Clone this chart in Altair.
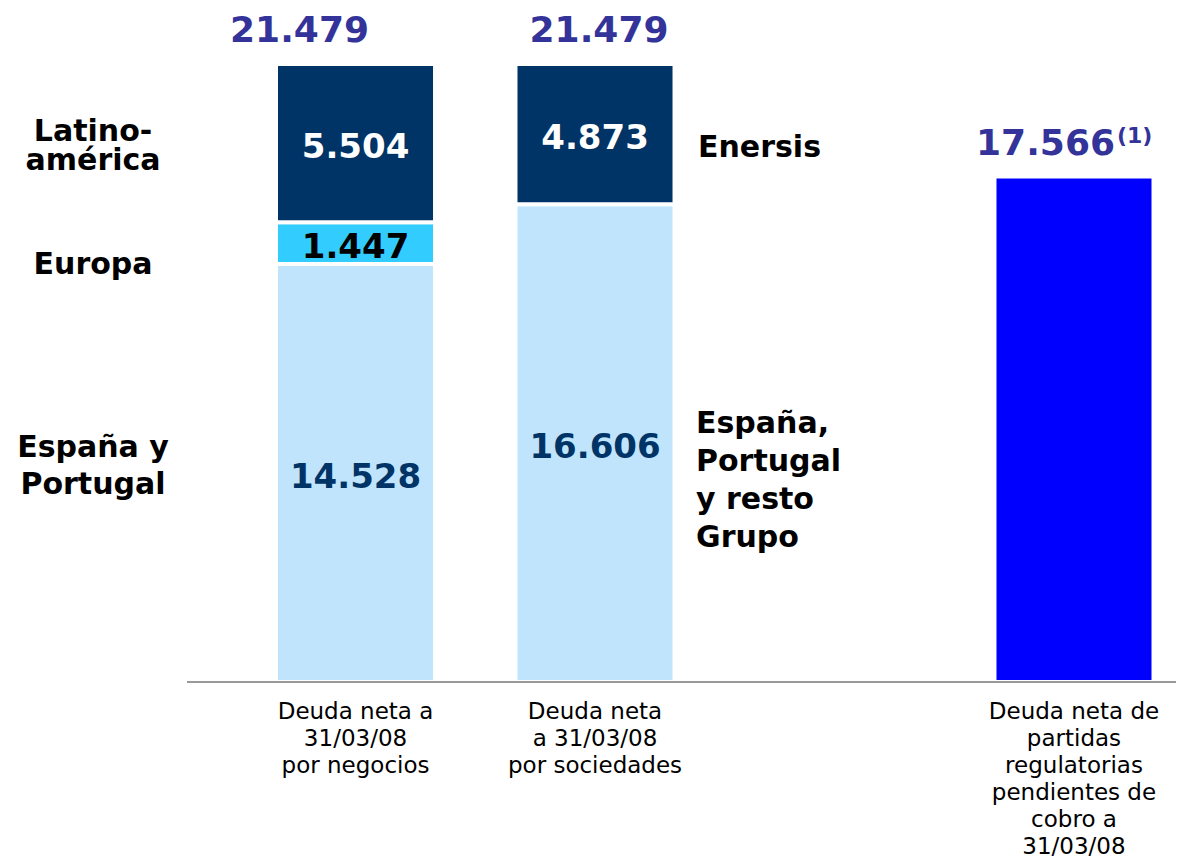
import altair as alt
import pandas as pd

# ---------------- data ----------------
categories = ["L", "neg", "soc", "G", "reg"]          # L = left label column, G = gap
bar_ids = ["neg", "soc", "reg"]
bar_axis_labels = [
    ["Deuda neta a", "31/03/08", "por negocios"],
    ["Deuda neta", "a 31/03/08", "por sociedades"],
    ["Deuda neta de", "partidas", "regulatorias", "pendientes de", "cobro a", "31/03/08"],
]

seg_bar = ["neg", "neg", "neg", "soc", "soc", "reg"]
seg_name = ["esp_port", "europa", "latam", "esp_resto", "enersis", "regul"]
seg_value = [14528, 1447, 5504, 16606, 4873, 17566]
seg_order = [0, 1, 2, 0, 1, 0]
seg_side = ["España y\nPortugal", "Europa", "Latino-\namérica",
            "España,\nPortugal\ny resto\nGrupo", "Enersis", ""]

tot_bar = ["neg", "soc", "reg"]
tot_value = [21479, 21479, 17566]
tot_note = ["", "", "(1)"]


def fmt(v):
    return f"{v:,}".replace(",", ".")


seg_df = pd.DataFrame({
    "bar": seg_bar, "segment": seg_name, "value": seg_value,
    "order": seg_order, "side": seg_side,
    "label": [fmt(v) for v in seg_value],
})
tot_df = pd.DataFrame({
    "bar": tot_bar, "total": tot_value, "note": tot_note,
    "label": [fmt(v) for v in tot_value],
})

# ---------------- styles ----------------
FONT = "DejaVu Sans"
seg_colors = ["#BFE4FC", "#33CCFF", "#003366", "#BFE4FC", "#003366", "#0000FF"]
txt_colors = ["#003366", "#000000", "#FFFFFF", "#003366", "#FFFFFF", "#0000FF"]
TOT_COLOR = "#333399"

xscale = alt.Scale(domain=categories, paddingInner=0.336, paddingOuter=0.1065, align=0.559)
yscale = alt.Scale(domain=[0, 23425], nice=False, zero=True)

label_expr = ""
for b, lines in zip(bar_ids, bar_axis_labels):
    arr = "[" + ",".join("'" + s + "'" for s in lines) + "]"
    label_expr += f"datum.label == '{b}' ? {arr} : "
label_expr += "''"

xaxis = alt.Axis(title=None, domain=False, ticks=False, grid=False, labelAngle=0,
                 labelExpr=label_expr, labelFont=FONT, labelFontSize=23,
                 labelColor="#000000", labelLineHeight=27, labelPadding=18,
                 labelBaseline="top")

# ---------------- layers ----------------
base = alt.Chart(seg_df)

bars = base.mark_bar(stroke="white", strokeWidth=4).encode(
    x=alt.X("bar:N", scale=xscale, axis=xaxis),
    y=alt.Y("value:Q", stack="zero", scale=yscale, axis=None),
    color=alt.Color("segment:N", scale=alt.Scale(domain=seg_name, range=seg_colors), legend=None),
    order=alt.Order("order:Q", sort="ascending"),
)

stacked = base.transform_stack(
    stack="value", groupby=["bar"], as_=["y0", "y1"],
    sort=[alt.SortField("order", order="ascending")],
).transform_calculate(mid="(datum.y0 + datum.y1) / 2")

values = stacked.transform_filter("datum.bar != 'reg'").mark_text(
    font=FONT, fontSize=34, fontWeight="bold", baseline="middle", align="center", dy=5
).encode(
    x=alt.X("bar:N", scale=xscale),
    y=alt.Y("mid:Q", scale=yscale),
    text="label:N",
    fill=alt.Fill("segment:N", scale=alt.Scale(domain=seg_name, range=txt_colors), legend=None),
)


def side_layer(seg, left, dx, dy, lh):
    ch = stacked.transform_filter(f"datum.segment == '{seg}'")
    if left:
        ch = ch.transform_calculate(pos="'L'")
        xenc = alt.X("pos:N", scale=xscale)
        align = "center"
    else:
        xenc = alt.X("bar:N", scale=xscale)
        align = "left"
    return ch.mark_text(font=FONT, fontSize=30, fontWeight="bold", color="#000000",
                        baseline="middle", align=align, dx=dx, dy=dy,
                        lineBreak="\n", lineHeight=lh).encode(
        x=xenc, y=alt.Y("mid:Q", scale=yscale), text="side:N")


sides = [
    side_layer("latam", True, -23, -11, 29),
    side_layer("europa", True, -23, 22, 37),
    side_layer("esp_port", True, -23, -25, 37),
    side_layer("enersis", False, 103, 14, 37),
    side_layer("esp_resto", False, 101, -19, 38),
]

tbase = alt.Chart(tot_df)


def total_layer(b, dx, align):
    return tbase.transform_filter(f"datum.bar == '{b}'").mark_text(
        font=FONT, fontSize=36, fontWeight="bold", color=TOT_COLOR,
        baseline="alphabetic", align=align, dx=dx, dy=-22).encode(
        x=alt.X("bar:N", scale=xscale), y=alt.Y("total:Q", scale=yscale), text="label:N")


totals = [
    total_layer("neg", -56, "center"),
    total_layer("soc", 4, "center"),
    total_layer("reg", 41, "right"),
]

note = tbase.transform_filter("datum.note != ''").mark_text(
    font=FONT, fontSize=22, fontWeight="bold", color=TOT_COLOR,
    baseline="alphabetic", align="left", dx=43, dy=-34).encode(
    x=alt.X("bar:N", scale=xscale), y=alt.Y("total:Q", scale=yscale), text="note:N")

baseline = alt.Chart(pd.DataFrame({"y": [0]})).mark_rule(color="#999999", strokeWidth=2).encode(
    y=alt.Y("y:Q", scale=yscale), x=alt.value(179), x2=alt.value(1168))

chart = alt.layer(bars, values, *sides, *totals, note, baseline).resolve_scale(
    color="independent", fill="independent"
).properties(
    width=1168, height=674,
    padding={"left": 0, "top": 0, "right": 0, "bottom": 174},
    autosize=alt.AutoSizeParams(type="none"),
).configure_view(stroke=None)

chart.save("out.html", embed_options={"renderer": "svg", "actions": False})
